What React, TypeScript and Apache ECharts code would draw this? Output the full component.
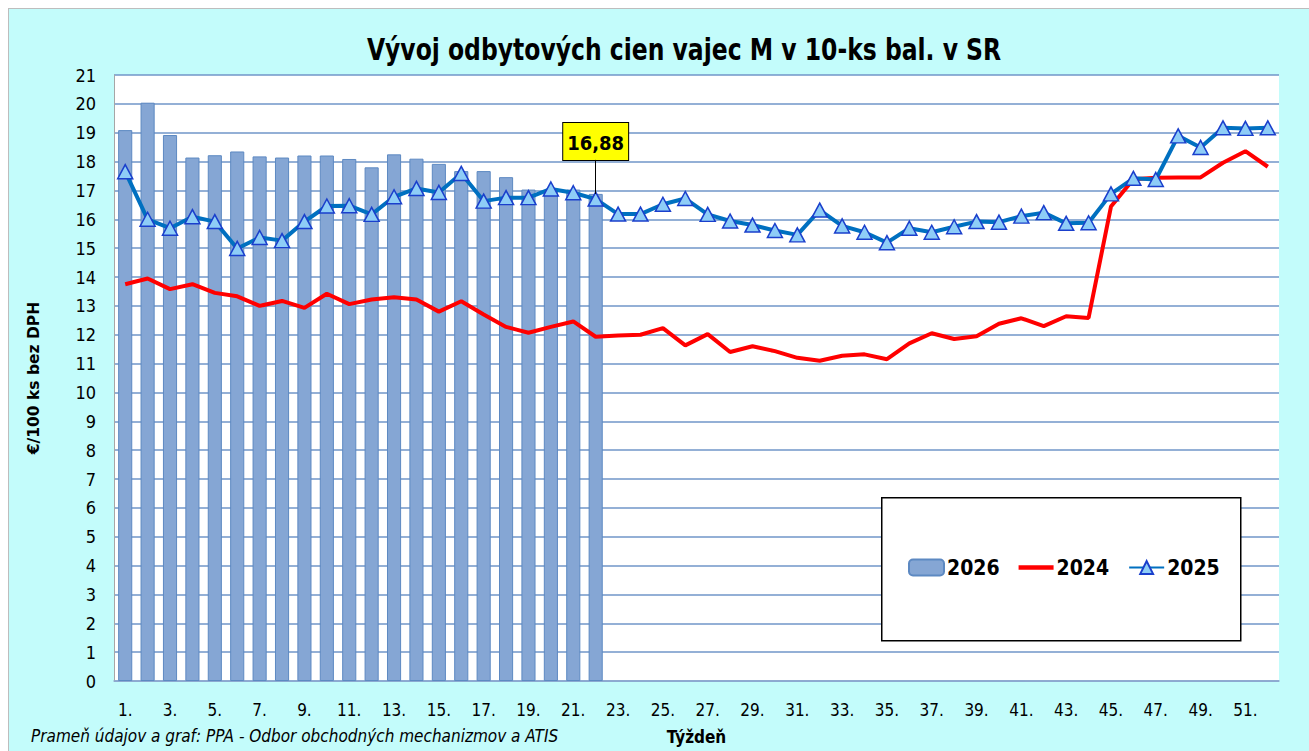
import React, { useEffect, useRef } from "react";
import * as echarts from "echarts";

const weeks: string[] = Array.from({ length: 52 }, (_, i) => `${i + 1}.`);

const values2026: number[] = [
  19.09, 20.04, 18.92, 18.14, 18.22, 18.35, 18.18, 18.14, 18.21, 18.21, 18.09,
  17.8, 18.25, 18.1, 17.92, 17.67, 17.67, 17.46, 17.03, 17.0, 17.03, 16.88,
];

const values2024: number[] = [
  13.75, 13.95, 13.58, 13.75, 13.45, 13.33, 13.0, 13.17, 12.93, 13.42, 13.06,
  13.22, 13.3, 13.22, 12.8, 13.16, 12.7, 12.27, 12.07, 12.27, 12.46, 11.93,
  11.97, 12.0, 12.23, 11.63, 12.02, 11.4, 11.6, 11.43, 11.2, 11.1, 11.27, 11.32,
  11.15, 11.7, 12.05, 11.85, 11.95, 12.38, 12.57, 12.3, 12.64, 12.58, 16.44,
  17.39, 17.44, 17.45, 17.45, 17.96, 18.36, 17.82,
];

const values2025: number[] = [
  17.65, 16.0, 15.69, 16.09, 15.92, 14.99, 15.37, 15.26, 15.92, 16.46, 16.47,
  16.17, 16.78, 17.07, 16.93, 17.59, 16.63, 16.75, 16.75, 17.05, 16.92, 16.7,
  16.18, 16.18, 16.52, 16.72, 16.17, 15.94, 15.8, 15.61, 15.46, 16.32, 15.77,
  15.55, 15.19, 15.69, 15.55, 15.74, 15.92, 15.9, 16.11, 16.23, 15.86, 15.88,
  16.88, 17.42, 17.38, 18.89, 18.49, 19.17, 19.15, 19.17,
];

const FONT = "'DejaVu Sans Condensed', 'DejaVu Sans', sans-serif";

const GRID_H = 606;
const Y_MAX = 21;
const LABEL_GAP = 34;

export default function App() {
  const ref = useRef<HTMLDivElement>(null);

  useEffect(() => {
    if (!ref.current) return;
    const chart = echarts.init(ref.current, undefined, { renderer: "svg" });
    const last = values2026.length - 1;
    const lastVal = values2026[last];
    const leaderTop = lastVal + LABEL_GAP / (GRID_H / Y_MAX);
    const barData = values2026.map((v, i) =>
      i === last
        ? {
            value: v,
            label: {
              show: true,
              position: "top",
              distance: LABEL_GAP,
              formatter: (p: any) => String(p.value).replace(".", ","),
              backgroundColor: "#FFFF00",
              borderColor: "#000",
              borderWidth: 1,
              padding: [10, 4, 7, 4],
              color: "#000",
              fontWeight: "bold",
              fontSize: 20,
              fontFamily: FONT,
            },
          }
        : v
    );

    chart.setOption({
      animation: false,
      backgroundColor: "#C3FCFB",
      textStyle: { fontFamily: FONT },
      legend: {
        data: [
          { name: "2026" },
          { name: "2024", icon: "path://M0,0 L36,0 L36,4.5 L0,4.5 Z" },
          { name: "2025" },
        ],
        left: 899,
        top: 548,
        padding: 0,
        itemGap: 19,
        itemWidth: 35,
        itemHeight: 16,
        z: 10,
        textStyle: {
          fontFamily: FONT,
          fontWeight: "bold",
          fontSize: 21,
          color: "#000",
          padding: [0, 0, 0, -2],
        },
      },
      grid: {
        left: 105,
        top: 66,
        width: 1165,
        height: GRID_H,
        show: true,
        backgroundColor: "#FFFFFF",
        borderWidth: 0,
      },
      xAxis: {
        type: "category",
        data: weeks,
        name: "Týždeň",
        nameLocation: "middle",
        nameGap: 47,
        nameTextStyle: {
          fontFamily: FONT,
          fontWeight: "bold",
          fontSize: 17,
          color: "#000",
        },
        axisLine: { show: true, lineStyle: { color: "#8EA9CF", width: 1.5 } },
        axisTick: { show: false },
        axisLabel: {
          interval: 1,
          margin: 20,
          fontSize: 17,
          color: "#000",
          fontFamily: FONT,
        },
      },
      yAxis: {
        type: "value",
        min: 0,
        max: Y_MAX,
        interval: 1,
        name: "€/100 ks bez DPH",
        nameLocation: "middle",
        nameGap: 72,
        nameRotate: 90,
        nameTextStyle: {
          fontFamily: "'DejaVu Sans', sans-serif",
          fontWeight: "bold",
          fontSize: 15.5,
          color: "#000",
        },
        axisLine: { show: true, lineStyle: { color: "#A6A6A6", width: 1 } },
        axisTick: { show: false },
        axisLabel: {
          margin: 18,
          fontSize: 18,
          color: "#000",
          fontFamily: FONT,
        },
        splitLine: { lineStyle: { color: "#7096C9", width: 1.5 } },
      },
      series: [
        {
          name: "2026",
          type: "bar",
          data: barData,
          barCategoryGap: "37%",
          itemStyle: {
            color: "#85A6D4",
            borderColor: "#5D89C2",
            borderWidth: 1,
          },
          markLine: {
            silent: true,
            symbol: "none",
            label: { show: false },
            lineStyle: { color: "#000", width: 1, type: "solid" },
            data: [
              [
                { coord: [last, lastVal] },
                { coord: [last, leaderTop] },
              ],
            ],
          },
          z: 2,
        },
        {
          name: "2024",
          type: "line",
          data: values2024,
          symbol: "none",
          lineStyle: { color: "#FF0000", width: 4 },
          itemStyle: { color: "#FF0000" },
          z: 3,
        },
        {
          name: "2025",
          type: "line",
          data: values2025,
          symbol: "triangle",
          symbolSize: [15, 14],
          lineStyle: { color: "#0070C0", width: 4 },
          itemStyle: {
            color: "#8ECDF7",
            borderColor: "#1A3FCC",
            borderWidth: 1.5,
          },
          z: 4,
        },
      ],
      graphic: [
        {
          type: "text",
          x: 675,
          y: 41,
          scaleX: 0.87,
          style: {
            text: "Vývoj odbytových cien vajec M v 10-ks bal. v SR",
            font: `bold 30px ${FONT}`,
            fill: "#000",
            align: "center",
            verticalAlign: "middle",
          },
          z: 5,
        },
        {
          type: "rect",
          left: 872,
          top: 488,
          shape: { width: 359, height: 143 },
          style: { fill: "#FFFFFF", stroke: "#000", lineWidth: 1.5 },
          z: 5,
        },
        {
          type: "text",
          left: 22,
          top: 718,
          style: {
            text: "Prameň údajov a graf: PPA - Odbor obchodných mechanizmov a ATIS",
            font: `italic 17px ${FONT}`,
            fill: "#000",
          },
          z: 5,
        },
      ],
    });
    return () => chart.dispose();
  }, []);

  return (
    <div
      style={{
        position: "fixed",
        left: 8,
        top: 8,
        width: 1301,
        height: 743,
        borderLeft: "1px solid #BDBDBD",
        borderTop: "1px solid #BDBDBD",
        boxSizing: "border-box",
        overflow: "hidden",
      }}
    >
      <div ref={ref} style={{ width: 1300, height: 742 }} />
    </div>
  );
}
